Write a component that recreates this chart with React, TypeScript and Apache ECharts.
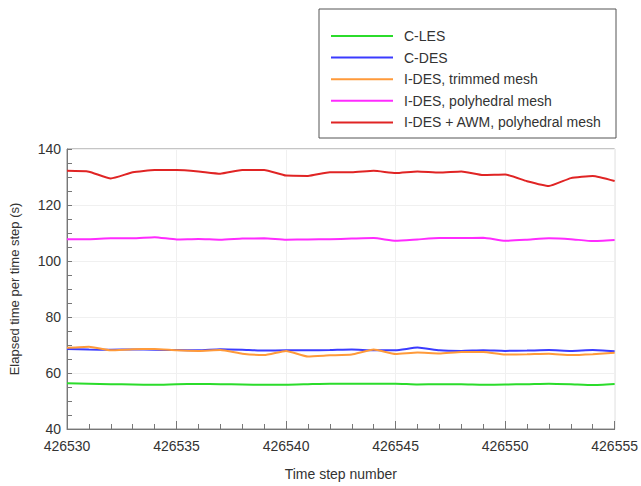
import React, { useEffect, useRef } from "react";
import * as echarts from "echarts";

const steps = [426530,426531,426532,426533,426534,426535,426536,426537,426538,426539,426540,426541,426542,426543,426544,426545,426546,426547,426548,426549,426550,426551,426552,426553,426554,426555];
const cLES = [56.3,56.2,56.0,55.9,55.8,56.0,56.1,56.0,55.9,55.8,55.8,56.0,56.2,56.2,56.2,56.2,55.9,56.0,56.0,55.8,55.9,56.0,56.2,56.0,55.7,56.1];
const cDES = [68.6,68.4,68.3,68.4,68.3,68.2,68.1,68.5,68.3,68.0,68.1,68.1,68.2,68.4,68.1,68.1,69.1,68.1,67.9,68.1,67.9,68.0,68.2,67.9,68.2,67.8];
const iDEStrim = [69.0,69.4,68.1,68.5,68.6,68.1,67.9,68.2,66.9,66.4,67.9,65.9,66.3,66.6,68.4,66.8,67.3,67.0,67.5,67.5,66.6,66.7,66.9,66.4,66.7,67.2];
const iDESpoly = [107.8,107.8,108.1,108.1,108.5,107.7,107.9,107.6,108.0,108.1,107.6,107.7,107.8,108.0,108.2,107.2,107.7,108.2,108.2,108.3,107.2,107.6,108.1,107.8,107.1,107.5];
const iDESawm = [132.2,131.9,129.5,131.7,132.5,132.5,132.0,131.2,132.5,132.5,130.5,130.4,131.7,131.7,132.2,131.4,132.0,131.6,132.0,130.7,130.9,128.5,126.8,129.6,130.4,128.6];
const seriesNames = ["C-LES","C-DES","I-DES, trimmed mesh","I-DES, polyhedral mesh","I-DES + AWM, polyhedral mesh"];
const seriesColors = ["#2bdc2b","#3b3bff","#ff9a3a","#ff2bff","#e02424"];
const seriesValues = [cLES, cDES, iDEStrim, iDESpoly, iDESawm];

export default function App() {
  const ref = useRef<HTMLDivElement>(null);
  useEffect(() => {
    document.body.style.margin = "0";
    const chart = echarts.init(ref.current!, null, { renderer: "svg" });
    const font = "Liberation Sans, Arial, sans-serif";
    chart.setOption({
      animation: false,
      backgroundColor: "#ffffff",
      textStyle: { fontFamily: font },
      grid: { left: 66, right: 25, top: 149, bottom: 49, show: true, borderColor: "#8a8a8a", borderWidth: 1 },
      legend: {
        orient: "vertical",
        left: 326,
        top: 24,
        itemWidth: 62,
        itemHeight: 10,
        itemGap: 7.6,
        icon: "path://M0,4 L62,4 L62,6 L0,6 Z",
        textStyle: { fontFamily: font, fontSize: 14, color: "#333333", padding: [0, 0, 0, 6] },
        data: seriesNames,
      },
      graphic: [
        { type: "rect", shape: { x: 319, y: 9, width: 297, height: 129 }, style: { fill: "none", stroke: "#555555", lineWidth: 1 }, z: 100 },
      ],
      xAxis: {
        type: "value",
        min: 426530,
        max: 426555,
        interval: 5,
        name: "Time step number",
        nameLocation: "middle",
        nameGap: 38,
        nameTextStyle: { fontSize: 14, color: "#333333", fontFamily: font },
        axisLine: { show: true, onZero: false, lineStyle: { color: "#777777" } },
        axisTick: { show: true, inside: true, length: 8, lineStyle: { color: "#777777" } },
        minorTick: { show: true, splitNumber: 5, length: 5, lineStyle: { color: "#777777" } },
        axisLabel: { fontSize: 14, color: "#333333", margin: 10, fontFamily: font, formatter: (v: number) => String(v) },
        splitLine: { show: true, lineStyle: { color: "#f0f0f0" } },
      },
      yAxis: {
        type: "value",
        min: 40,
        max: 140,
        interval: 20,
        name: "Elapsed time per time step (s)",
        nameLocation: "middle",
        nameGap: 46,
        nameTextStyle: { fontSize: 13, color: "#333333", fontFamily: font },
        axisLine: { show: true, lineStyle: { color: "#777777" } },
        axisTick: { show: true, inside: true, length: 5, lineStyle: { color: "#777777" } },
        minorTick: { show: true, splitNumber: 4, length: 5, lineStyle: { color: "#777777" } },
        axisLabel: { fontSize: 14, color: "#333333", margin: 6, fontFamily: font },
        splitLine: { show: true, lineStyle: { color: "#f0f0f0" } },
      },
      series: seriesNames.map((n, i) => ({
        name: n,
        type: "line",
        symbol: "none",
        smooth: 0.15,
        color: seriesColors[i],
        lineStyle: { width: 2, color: seriesColors[i] },
        data: steps.map((s, j) => [s, seriesValues[i][j]]),
      })),
    });
    return () => chart.dispose();
  }, []);
  return <div ref={ref} style={{ width: 641, height: 486 }} />;
}
